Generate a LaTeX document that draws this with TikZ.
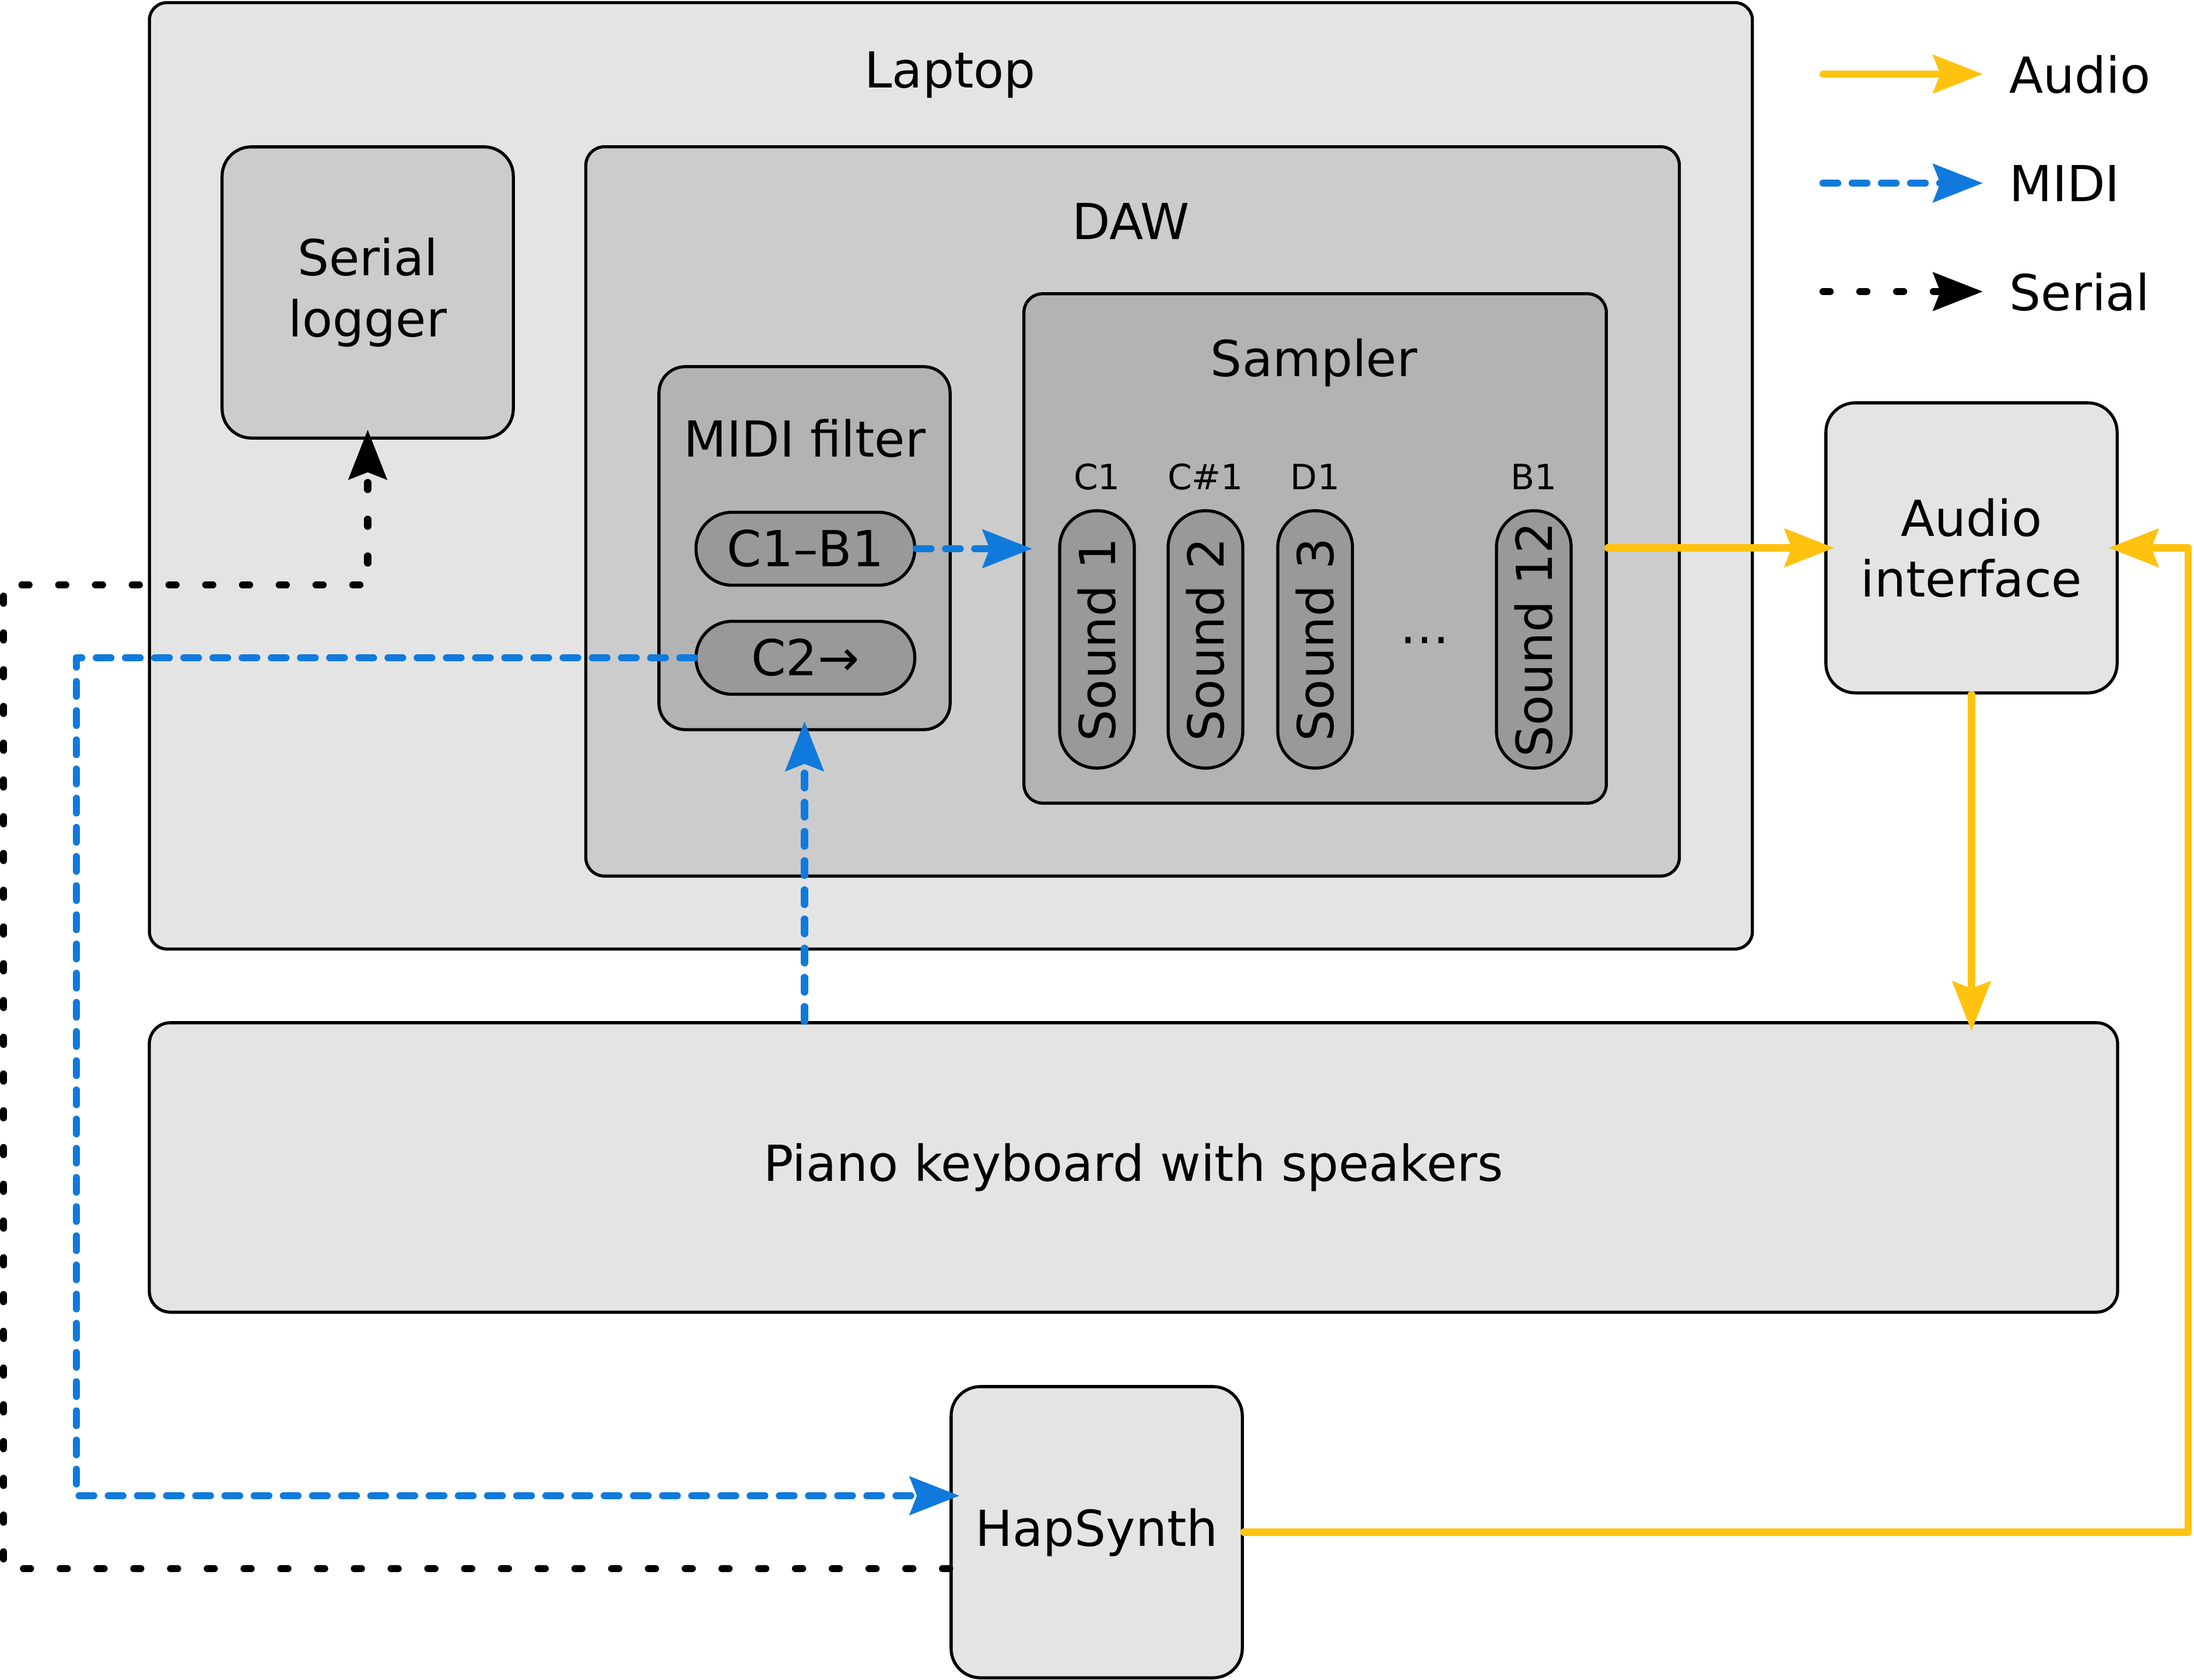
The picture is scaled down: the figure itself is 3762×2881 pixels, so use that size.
\documentclass[tikz,border=0pt]{standalone}
\usepackage{fontspec}
\setmainfont{DejaVu Sans}
\usetikzlibrary{arrows.meta}
\definecolor{audioc}{HTML}{FFC20E}
\definecolor{midic}{HTML}{107ADC}
\definecolor{gA}{HTML}{E4E4E4}
\definecolor{gB}{HTML}{CCCCCC}
\definecolor{gC}{HTML}{B3B3B3}
\definecolor{gD}{HTML}{999999}
\begin{document}
\begin{tikzpicture}[x=0.01cm,y=-0.01cm,
  lbl/.style={font=\fontsize{24.2}{29.6}\selectfont, inner sep=0, align=center},
  smalllbl/.style={font=\fontsize{17}{20}\selectfont, inner sep=0, anchor=base},
  box/.style={draw, line width=1.5pt, inner sep=0, align=center, font=\fontsize{24.2}{29.6}\selectfont},
  pill/.style={box, fill=gD, rounded corners=0.62cm, minimum width=3.75cm, minimum height=1.25cm},
  vpill/.style={box, fill=gD, rounded corners=0.63cm, minimum width=4.41cm, minimum height=1.28cm, rotate=90},
  tipst/.style={-{Stealth[length=0.85cm,width=0.65cm,inset=0.12cm]}},
  conn/.style={line width=3.5pt, line cap=round, line join=round, tipst},
  into/.style={shorten >=-0.17cm},
  audio/.style={conn, audioc},
  midi/.style={conn, midic, dash pattern=on 0.25cm off 0.25cm},
  serial/.style={conn, black, dash pattern=on 0.12cm off 0.51cm},
]
\useasboundingbox (0,0) rectangle (3762,2881);

% containers
\node[box, fill=gA, rounded corners=0.3cm, minimum width=27.47cm, minimum height=16.22cm] (laptop) at (1630.5,816) {};
\node[lbl, anchor=base] (laptopl) at (1629,150) {Laptop};
\node[box, fill=gB, rounded corners=0.5cm, minimum width=4.99cm, minimum height=4.99cm] (slog) at (630.5,501.5) {Serial\\logger};
\node[box, fill=gB, rounded corners=0.32cm, minimum width=18.74cm, minimum height=12.5cm] (daw) at (1942,877) {};
\node[lbl, anchor=base] (dawl) at (1939,410) {DAW};
\node[box, fill=gC, rounded corners=0.45cm, minimum width=4.99cm, minimum height=6.22cm] (filt) at (1379.5,940) {};
\node[lbl, anchor=base] (filtl) at (1380,783) {MIDI filter};
\node[pill] (c1b1) at (1381,941) {C1–B1};
\node[pill] (c2) at (1381,1128) {C2→};
\node[box, fill=gC, rounded corners=0.32cm, minimum width=9.98cm, minimum height=8.73cm] (sampler) at (2255,940.5) {};
\node[lbl, anchor=base] (samplerl) at (2253,645) {Sampler};
\node[vpill] (s1) at (1881,1096.5) {Sound 1};
\node[vpill] (s2) at (2067,1096.5) {Sound 2};
\node[vpill] (s3) at (2255,1096.5) {Sound 3};
\node[vpill] (s12) at (2630,1096.5) {Sound 12};
\node[smalllbl] (n1) at (1881,839) {C1};
\node[smalllbl] (n2) at (2067,839) {C\#1};
\node[smalllbl] (n3) at (2255,839) {D1};
\node[smalllbl] (n12) at (2630,839) {B1};
\node[lbl, anchor=base] (dots) at (2443,1103) {…};

% other boxes
\node[box, fill=gA, rounded corners=0.5cm, minimum width=4.99cm, minimum height=4.97cm] (aif) at (3380.5,939.5) {Audio\\interface};
\node[box, fill=gA, rounded corners=0.36cm, minimum width=33.73cm, minimum height=4.96cm] (piano) at (1943.5,2002) {Piano keyboard with speakers};
\node[box, fill=gA, rounded corners=0.5cm, minimum width=4.99cm, minimum height=4.99cm] (hap) at (1880.5,2627.5) {HapSynth};

% legend
\coordinate (la1) at (3126,127); \coordinate (la2) at (3400,127);
\coordinate (lm1) at (3126,314); \coordinate (lm2) at (3400,314);
\coordinate (ls1) at (3126,500); \coordinate (ls2) at (3400,500);
\draw[audio] (la1) -- (la2);
\draw[midi] (lm1) -- (lm2);
\draw[serial] (ls1) -- (ls2);
\node[lbl, anchor=base west] (laudio) at (3445,159) {Audio};
\node[lbl, anchor=base west] (lmidi) at (3445,345) {MIDI};
\node[lbl, anchor=base west] (lserial) at (3445,532) {Serial};

% connectors
\coordinate (sA) at (6,2690);
\coordinate (sB) at (6,1003);
\draw[serial,into] (hap.west |- sA) -- (sA) -- (sB) -- (slog.south |- sB) -- (slog.south);

\coordinate (mB) at (131,2565);
\draw[midi,into] (c2.west) -- (c2.west -| mB) -- (mB) -- (hap.west |- mB);
\draw[midi,into] (piano.north -| filt.south) -- (filt.south);
\draw[midi,into] (c1b1.east) -- (c1b1.east -| sampler.west);

\draw[audio,into] (sampler.east |- aif.west) -- (aif.west);
\draw[audio,into] (aif.south) -- (aif.south |- piano.north);
\coordinate (aR) at (3752,0);
\draw[audio,into] (hap.east) -- (hap.east -| aR) -- (aif.east -| aR) -- (aif.east);
\end{tikzpicture}
\end{document}
